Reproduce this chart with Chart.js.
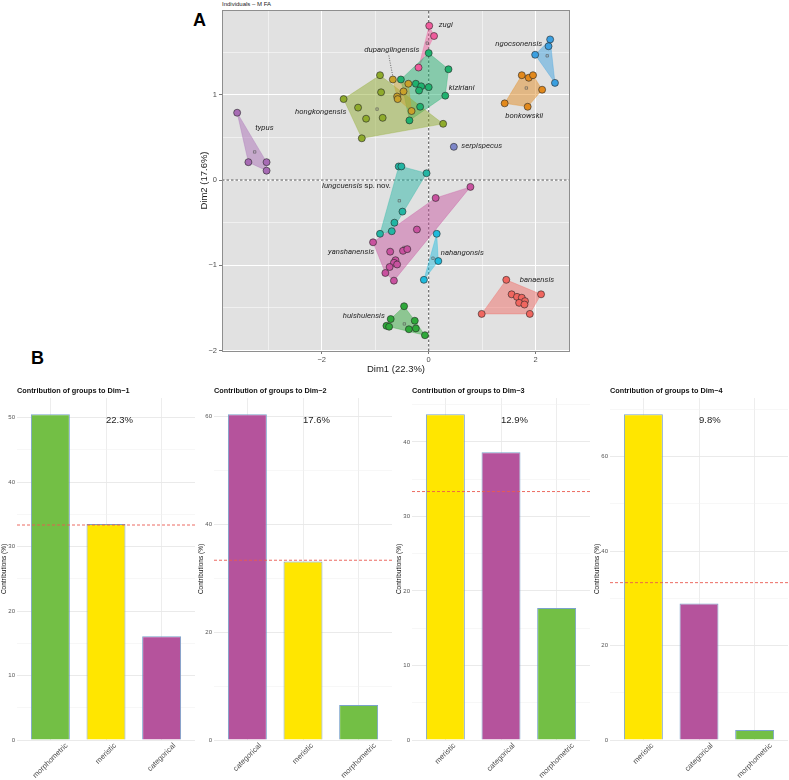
<!DOCTYPE html>
<html>
<head>
<meta charset="utf-8">
<script src="https://cdn.jsdelivr.net/npm/chart.js@4.4.0/dist/chart.umd.min.js"></script>
<style>
  body { margin: 0; background: #fff; }
  #page { position: relative; width: 789px; height: 780px; overflow: hidden; font-family: "Liberation Sans", Arial, sans-serif; }
  canvas { position: absolute; }
  .tag { position: absolute; font-weight: bold; font-size: 18px; line-height: 18px; color: #000; }
  #indTitle { position: absolute; left: 222px; top: 1px; font-size: 6px; line-height: 7px; color: #222; }
</style>
</head>
<body>
<div id="page">
  <div class="tag" style="left:193px;top:11px">A</div>
  <div class="tag" style="left:31px;top:349px">B</div>
  <div id="indTitle">Individuals – M FA</div>
  <canvas id="indPlot" width="410" height="380" style="left:170px;top:0"></canvas>
  <canvas id="contrib1" width="196" height="400" style="left:-1px;top:380px"></canvas>
  <canvas id="contrib2" width="196" height="400" style="left:196px;top:380px"></canvas>
  <canvas id="contrib3" width="196" height="400" style="left:394px;top:380px"></canvas>
  <canvas id="contrib4" width="196" height="400" style="left:592px;top:380px"></canvas>
</div>
<script>
// ---- individuals map, [Dim1, Dim2] per specimen ----
const banaensis = [[1.45,-1.17],[2.10,-1.34],[1.89,-1.57],[0.99,-1.57],[1.55,-1.34],[1.65,-1.37],[1.74,-1.38],[1.80,-1.42],[1.69,-1.44],[1.79,-1.46]];
const bonkowskii = [[1.74,1.23],[1.87,1.20],[1.95,1.23],[2.12,1.06],[1.85,0.86],[1.42,0.90]];
const dupanglingensis = [[-0.67,1.18],[-0.38,1.13],[-0.47,1.04],[-0.59,0.98],[-0.58,0.95],[-0.32,0.81]];
const hongkongensis = [[-1.59,0.95],[-1.32,0.85],[-1.17,0.72],[-0.89,1.03],[-0.91,1.23],[-0.86,0.73],[-1.25,0.49],[0.27,0.66]];
const huishuiensis = [[-0.46,-1.48],[-0.71,-1.63],[-0.79,-1.71],[-0.74,-1.72],[-0.26,-1.65],[-0.24,-1.74],[-0.37,-1.75],[-0.07,-1.82]];
const kiziriani = [[0.00,1.49],[0.37,1.30],[0.31,0.99],[0.00,1.09],[-0.16,0.86],[-0.36,0.70],[-0.52,1.18],[-0.24,1.13],[-0.14,1.10],[-0.18,1.05]];
const lungcuensis = [[-0.56,0.16],[-0.51,0.16],[-0.04,0.08],[-0.49,-0.37],[-0.64,-0.50],[-0.69,-0.60],[-0.91,-0.63]];
const nahangonsis = [[0.15,-0.63],[0.18,-0.95],[-0.09,-1.17]];
const ngocsonensis = [[2.27,1.65],[2.24,1.57],[1.99,1.47],[2.36,1.14]];
const serpispecus = [[0.47,0.39]];
const typus = [[-3.58,0.79],[-3.37,0.21],[-3.03,0.21],[-3.03,0.11]];
const yanshanensis = [[0.78,-0.08],[0.13,-0.21],[-0.22,-0.58],[-1.04,-0.73],[-0.72,-0.84],[-0.48,-0.83],[-0.40,-0.81],[-0.62,-0.94],[-0.65,-0.97],[-0.59,-0.99],[-0.73,-1.02],[-0.81,-1.09],[-0.65,-1.18]];
const zugi = [[0.01,1.81],[0.10,1.69],[-0.19,1.32]];

const speciesNames = ['banaensis','bonkowskii','dupanglingensis','hongkongensis','huishuiensis','kiziriani','lungcuensis','nahangonsis','ngocsonensis','serpispecus','typus','yanshanensis','zugi'];
const speciesPoints = [banaensis, bonkowskii, dupanglingensis, hongkongensis, huishuiensis, kiziriani, lungcuensis, nahangonsis, ngocsonensis, serpispecus, typus, yanshanensis, zugi];
const speciesColors = ['#f0665f','#e2891c','#c9a12a','#8fab2c','#2ea83a','#1fb16e','#22b5a3','#1fbadc','#3a9fe0','#7d86c8','#a76bb4','#c8529f','#ef5c9c'];

const dim1Range = [-3.863, 2.641];
const dim2Range = [-2.005, 1.995];
const dim1Ticks = [-3, -2, -1, 0, 1, 2];
const dim2Ticks = [-2, -1.5, -1, -0.5, 0, 0.5, 1, 1.5];

// ---- contribution of groups to each dimension ----
const dimNames = ['Dim\u22121', 'Dim\u22122', 'Dim\u22123', 'Dim\u22124'];
const dimVariance = ['22.3%', '17.6%', '12.9%', '9.8%'];
const groupsDim1 = ['morphometric', 'meristic', 'categorical'];
const contribDim1 = [50.5, 33.5, 16.1];
const groupsDim2 = ['categorical', 'meristic', 'morphometric'];
const contribDim2 = [60.4, 33.1, 6.5];
const groupsDim3 = ['meristic', 'categorical', 'morphometric'];
const contribDim3 = [43.7, 38.6, 17.7];
const groupsDim4 = ['meristic', 'categorical', 'morphometric'];
const contribDim4 = [69.0, 28.9, 2.1];
const contribTickSteps = [10, 20, 10, 20];
const expectedContrib = 100 / 3;

const groupColors = { morphometric: '#73bf45', meristic: '#ffe600', categorical: '#b5539c' };

// label placement for the species names (data units)
const speciesLabels = [
  { name: 'zugi', x: 0.19, y: 1.82, align: 'left' },
  { name: 'dupanglingensis', x: -0.69, y: 1.52, align: 'center', leader: true },
  { name: 'kiziriani', x: 0.375, y: 1.075, align: 'left' },
  { name: 'ngocsonensis', x: 2.12, y: 1.59, align: 'right' },
  { name: 'bonkowskii', x: 1.785, y: 0.75, align: 'center' },
  { name: 'hongkongensis', x: -1.54, y: 0.80, align: 'right' },
  { name: 'typus', x: -3.07, y: 0.61, align: 'center' },
  { name: 'serpispecus', x: 0.61, y: 0.40, align: 'left' },
  { name: 'lungcuensis', x: -1.35, y: -0.074, align: 'center', suffix: ' sp. nov.' },
  { name: 'yanshanensis', x: -1.02, y: -0.845, align: 'right' },
  { name: 'nahangonsis', x: 0.225, y: -0.856, align: 'left' },
  { name: 'banaensis', x: 1.70, y: -1.17, align: 'left' },
  { name: 'huishuiensis', x: -0.82, y: -1.59, align: 'right' },
];

const FONT = '"Liberation Sans", Arial, sans-serif';

function rgba(hex, a) {
  const n = parseInt(hex.slice(1), 16);
  return `rgba(${n >> 16},${(n >> 8) & 255},${n & 255},${a})`;
}

function minus(v) {
  return v < 0 ? '\u2212' + Math.abs(v) : String(v);
}

// convex hull (monotone chain)
function convexHull(pts) {
  const p = pts.map(a => ({ x: a[0], y: a[1] })).sort((a, b) => a.x - b.x || a.y - b.y);
  if (p.length < 3) return p;
  const cross = (o, a, b) => (a.x - o.x) * (b.y - o.y) - (a.y - o.y) * (b.x - o.x);
  const lower = [];
  for (const q of p) {
    while (lower.length >= 2 && cross(lower[lower.length - 2], lower[lower.length - 1], q) <= 0) lower.pop();
    lower.push(q);
  }
  const upper = [];
  for (const q of p.slice().reverse()) {
    while (upper.length >= 2 && cross(upper[upper.length - 2], upper[upper.length - 1], q) <= 0) upper.pop();
    upper.push(q);
  }
  lower.pop(); upper.pop();
  return lower.concat(upper);
}

const panelBackground = {
  id: 'panelBackground',
  beforeDraw(chart) {
    const { ctx, chartArea: a } = chart;
    ctx.save();
    ctx.fillStyle = '#e1e1e1';
    ctx.fillRect(a.left, a.top, a.right - a.left, a.bottom - a.top);
    ctx.restore();
  },
  afterDraw(chart) {
    const { ctx, chartArea: a } = chart;
    ctx.save();
    ctx.strokeStyle = '#8e8e8e';
    ctx.lineWidth = 1;
    ctx.strokeRect(a.left + 0.5, a.top + 0.5, a.right - a.left - 1, a.bottom - a.top);
    ctx.restore();
  }
};

const speciesText = {
  id: 'speciesText',
  afterDatasetsDraw(chart) {
    const { ctx, scales: { x, y } } = chart;
    ctx.save();
    ctx.fillStyle = '#1e1e1e';
    ctx.textBaseline = 'middle';
    const italic = 'italic 7.8px Roboto, ' + FONT;
    const plain = '7.8px Roboto, ' + FONT;
    speciesLabels.forEach(l => {
      const px = x.getPixelForValue(l.x);
      const py = y.getPixelForValue(l.y);
      ctx.font = italic;
      const w1 = ctx.measureText(l.name).width;
      let w2 = 0;
      if (l.suffix) { ctx.font = plain; w2 = ctx.measureText(l.suffix).width; }
      const total = w1 + w2;
      let left = px;
      if (l.align === 'center') left = px - total / 2;
      if (l.align === 'right') left = px - total;
      ctx.textAlign = 'left';
      ctx.font = italic;
      ctx.fillText(l.name, left, py);
      if (l.suffix) { ctx.font = plain; ctx.fillText(l.suffix, left + w1, py); }
      if (l.leader) {
        const target = speciesPoints[speciesNames.indexOf(l.name)][0];
        ctx.beginPath();
        ctx.setLineDash([1, 1.4]);
        ctx.strokeStyle = '#333';
        ctx.lineWidth = 0.7;
        ctx.moveTo(px - 3, py + 5);
        ctx.lineTo(x.getPixelForValue(target[0]), y.getPixelForValue(target[1]) - 3);
        ctx.stroke();
        ctx.setLineDash([]);
      }
    });
    ctx.restore();
  }
};

// ---- panel A ----
const indDatasets = [
  { data: [{ x: dim1Range[0], y: 0 }, { x: dim1Range[1], y: 0 }], showLine: true, borderColor: '#2a2a2a', borderWidth: 0.8, borderDash: [2.5, 2], pointRadius: 0, order: 10 },
  { data: [{ x: 0, y: dim2Range[0] }, { x: 0, y: dim2Range[1] }], showLine: true, borderColor: '#2a2a2a', borderWidth: 0.8, borderDash: [2.5, 2], pointRadius: 0, order: 10 },
];

speciesPoints.forEach((pts, i) => {
  const col = speciesColors[i];
  if (pts.length > 2) {
    const hull = convexHull(pts);
    hull.push(hull[0]);
    indDatasets.push({ data: hull, showLine: true, fill: 'shape', backgroundColor: rgba(col, 0.47), borderColor: rgba(col, 0.55), borderWidth: 0.6, pointRadius: 0, order: 5 });
  }
  if (pts.length > 1) {
    const cx = pts.reduce((s, p) => s + p[0], 0) / pts.length;
    const cy = pts.reduce((s, p) => s + p[1], 0) / pts.length;
    indDatasets.push({ data: [{ x: cx, y: cy }], pointStyle: 'rect', pointRadius: 1.7, backgroundColor: 'rgba(0,0,0,0)', borderColor: '#555', borderWidth: 0.6, order: 3 });
  }
  indDatasets.push({
    data: pts.map(p => ({ x: p[0], y: p[1] })),
    pointRadius: 3.5, backgroundColor: col, borderColor: 'rgba(35,35,35,0.85)', borderWidth: 0.7, order: 1
  });
});

new Chart(document.getElementById('indPlot'), {
  type: 'scatter',
  data: { datasets: indDatasets },
  options: {
    responsive: false, animation: false, events: [],
    layout: { padding: { top: 10, right: 10, left: 0, bottom: 0 } },
    plugins: { legend: { display: false }, tooltip: { enabled: false } },
    scales: {
      x: {
        type: 'linear', min: dim1Range[0], max: dim1Range[1],
        afterBuildTicks: s => { s.ticks = dim1Ticks.map(v => ({ value: v })); },
        afterFit: s => { s.height = 29; },
        ticks: { callback: v => (v % 2 === 0 ? minus(v) : ''), font: { family: FONT, size: 7.5 }, color: '#4d4d4d', padding: 1, maxRotation: 0, autoSkip: false },
        grid: {
          color: '#ffffff', lineWidth: c => (c.tick && c.tick.value % 2 === 0 ? 1 : 0.5),
          tickLength: 3, tickWidth: 0.8, tickColor: c => (c.tick && c.tick.value % 2 === 0 ? '#555' : 'rgba(0,0,0,0)')
        },
        border: { display: false },
        title: { display: true, text: 'Dim1 (22.3%)', font: { family: FONT, size: 9.5 }, color: '#1a1a1a', padding: { top: 0, bottom: 5.3 } }
      },
      y: {
        type: 'linear', min: dim2Range[0], max: dim2Range[1],
        afterBuildTicks: s => { s.ticks = dim2Ticks.map(v => ({ value: v })); },
        afterFit: s => { s.width = 52; },
        ticks: { callback: v => (Number.isInteger(v) ? minus(v) : ''), font: { family: FONT, size: 7.5 }, color: '#4d4d4d', padding: 2, autoSkip: false },
        grid: {
          color: '#ffffff', lineWidth: c => (c.tick && Number.isInteger(c.tick.value) ? 1 : 0.5),
          tickLength: 3, tickWidth: 0.8, tickColor: c => (c.tick && Number.isInteger(c.tick.value) ? '#555' : 'rgba(0,0,0,0)')
        },
        border: { display: false },
        title: { display: true, text: 'Dim2 (17.6%)', font: { family: FONT, size: 9.5 }, color: '#1a1a1a', padding: { top: 28.3, bottom: 0 } }
      }
    }
  },
  plugins: [panelBackground, speciesText]
});

// ---- panel B ----
const contribText = {
  id: 'contribText',
  afterDraw(chart) {
    const { ctx, chartArea, scales: { x, y } } = chart;
    const o = chart.options.plugins.contribText;
    ctx.save();
    ctx.fillStyle = '#111';
    ctx.font = 'bold 7.3px ' + FONT;
    ctx.textAlign = 'left';
    ctx.textBaseline = 'middle';
    ctx.fillText('Contribution of groups to ' + o.dim, chartArea.left, 10.7);

    ctx.fillStyle = '#222';
    ctx.font = '9.5px ' + FONT;
    ctx.textBaseline = 'top';
    ctx.fillText(o.variance, x.getPixelForValue(1.0), y.getPixelForValue(o.top) + 1);

    // group names, rotated 45° and centred on their tick
    ctx.fillStyle = '#4d4d4d';
    ctx.font = '7.5px ' + FONT;
    ctx.textAlign = 'center';
    ctx.textBaseline = 'middle';
    o.groups.forEach((g, i) => {
      const w = ctx.measureText(g).width;
      const half = (w / 2 + 2.8) * Math.SQRT1_2;
      ctx.save();
      ctx.translate(x.getPixelForValue(i), chartArea.bottom + 2.5 + half);
      ctx.rotate(-Math.PI / 4);
      ctx.fillText(g, 0, 0);
      ctx.restore();
    });
    ctx.restore();
  }
};

function contribChart(id, groups, values, dim, variance, step) {
  const top = Math.max(...values);
  const yMax = top * 1.05;
  const yTicks = [];
  for (let v = 0; v <= yMax; v += step / 2) yTicks.push(v);
  new Chart(document.getElementById(id), {
    type: 'bar',
    data: {
      datasets: [
        { type: 'line', data: [{ x: -0.6, y: expectedContrib }, { x: 2.6, y: expectedContrib }], borderColor: '#ea5a50', borderWidth: 0.9, borderDash: [3, 2], pointRadius: 0, order: 0 },
        { type: 'bar', data: values.map((v, i) => ({ x: i, y: v })), backgroundColor: groups.map(g => groupColors[g]), borderColor: '#7aa3cb', borderWidth: 1, barPercentage: 0.7, categoryPercentage: 1, order: 1 }
      ]
    },
    options: {
      responsive: false, animation: false, events: [],
      layout: { padding: { top: 18, right: 0, left: 0, bottom: 0 } },
      plugins: { legend: { display: false }, tooltip: { enabled: false }, contribText: { dim, variance, top, groups } },
      scales: {
        x: {
          type: 'linear', min: -0.6, max: 2.6, offset: false,
          afterBuildTicks: s => { s.ticks = [0, 1, 2].map(v => ({ value: v })); },
          afterFit: s => { s.height = 40; },
          ticks: { display: false },
          grid: { color: '#ebebeb', lineWidth: 0.9, drawTicks: false, offset: false },
          border: { display: false }
        },
        y: {
          type: 'linear', min: 0, max: yMax,
          afterBuildTicks: s => { s.ticks = yTicks.map(v => ({ value: v })); },
          afterFit: s => { s.width = 18; },
          ticks: { callback: v => (v % step === 0 ? String(v) : ''), font: { family: FONT, size: 6 }, color: '#555', padding: 2, autoSkip: false },
          grid: { color: c => (c.tick && c.tick.value % step === 0 ? '#e8e8e8' : '#f2f2f2'), lineWidth: c => (c.tick && c.tick.value % step === 0 ? 0.9 : 0.6), drawTicks: false },
          border: { display: false },
          title: { display: true, text: 'Contributions (%)', font: { family: FONT, size: 6.5 }, color: '#111', padding: { top: 1, bottom: 0 } }
        }
      }
    },
    plugins: [contribText]
  });
}

contribChart('contrib1', groupsDim1, contribDim1, dimNames[0], dimVariance[0], contribTickSteps[0]);
contribChart('contrib2', groupsDim2, contribDim2, dimNames[1], dimVariance[1], contribTickSteps[1]);
contribChart('contrib3', groupsDim3, contribDim3, dimNames[2], dimVariance[2], contribTickSteps[2]);
contribChart('contrib4', groupsDim4, contribDim4, dimNames[3], dimVariance[3], contribTickSteps[3]);
</script>
</body>
</html>
